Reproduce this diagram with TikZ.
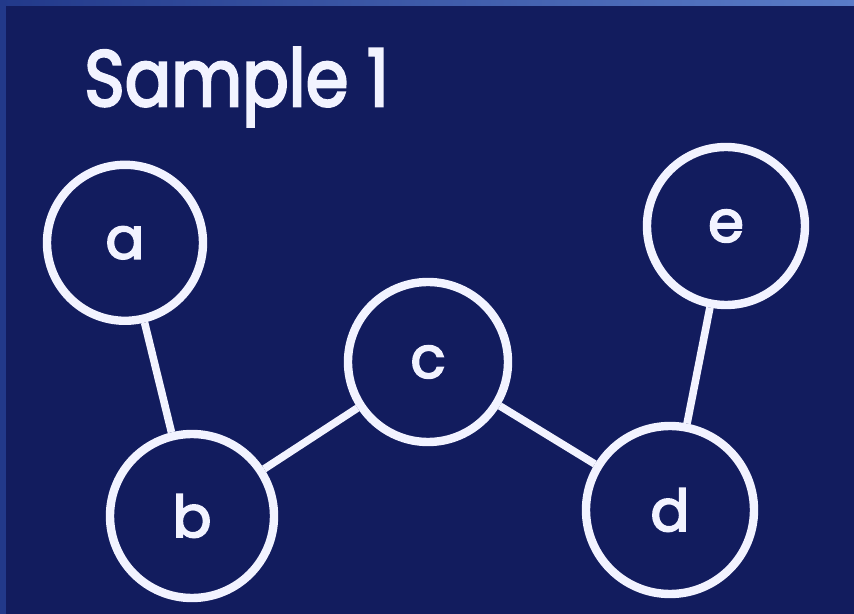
\documentclass[tikz,border=0pt]{standalone}
\usepackage{fontspec}
\setmainfont{Poppins}
\newfontfamily\slidefont{Poppins}[FakeBold=3.2]
\usepackage{xcolor}
\usetikzlibrary{positioning}
\definecolor{slidebg}{HTML}{121C5E}
\definecolor{rimleft}{HTML}{22398A}
\definecolor{rimtop}{HTML}{5A7CC8}
\definecolor{chalk}{HTML}{F2F3FF}

\begin{document}
\begin{tikzpicture}[
  vert/.style={circle, draw=chalk, line width=0.21cm, minimum size=4cm,
    inner sep=0pt, text=chalk, font=\slidefont\fontsize{41}{41}\selectfont},
  edge/.style={draw=chalk, line width=0.19cm},
  title/.style={anchor=base west, text=chalk, inner sep=0pt, yscale=1.15,
    transform shape, font=\slidefont\fontsize{49}{49}\selectfont}
]
% slide frame
\fill[slidebg] (0,0) rectangle (21.35,15.35);
\fill[rimleft] (0,0) rectangle (0.15,15.35);
\shade[left color=rimleft, right color=rimtop] (0,15.2) rectangle (21.35,15.35);
\useasboundingbox (0,0) rectangle (21.35,15.35);
% heading
\node[title] (head) at (2.1,12.7) {Sample 1};
% vertices
\node[vert, minimum size=3.9cm] (a) at (3.125,9.28) {a};
\node[vert, minimum size=4.1cm] (b) at (4.8,2.45) {b};
\node[vert] (c) at (10.7,6.3) {c};
\node[vert, minimum size=4.2cm] (d) at (16.75,2.6) {d};
\node[vert, minimum size=3.95cm] (e) at (18.15,9.7) {e};
% edges
\draw[edge] (a) -- (b);
\draw[edge] (b) -- (c);
\draw[edge] (c) -- (d);
\draw[edge] (d) -- (e);
\end{tikzpicture}
\end{document}
